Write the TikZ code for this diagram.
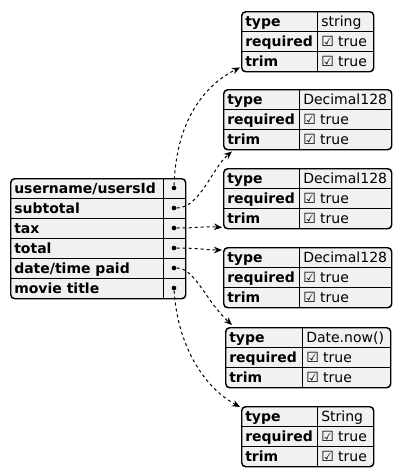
\documentclass[tikz,border=0pt]{standalone}
\usepackage{fontspec}
\setmainfont{DejaVu Sans}
\usetikzlibrary{arrows.meta}
\definecolor{tablegray}{HTML}{F1F1F1}

\newcommand{\proptable}[6]{%
  \node[tbl, minimum width=#4*0.75pt, anchor=north west] (#1) at (#2,#3) {};
  \draw[cellline] (#2,#3+20) -- ++(#4,0) (#2,#3+40) -- ++(#4,0) (#2+#5,#3) -- ++(0,60);
  \node[key] (#1-type) at (#2+4,#3+15) {type};
  \node[val] (#1-typeval) at (#2+#5+4,#3+15) {#6};
  \node[key] (#1-req) at (#2+4,#3+35) {required};
  \node[val] (#1-reqval) at (#2+#5+4,#3+35) {☑ true};
  \node[key] (#1-trim) at (#2+4,#3+55) {trim};
  \node[val] (#1-trimval) at (#2+#5+4,#3+55) {☑ true};
}

\begin{document}
\begin{tikzpicture}[
    x=0.75pt, y=-0.75pt,
    every node/.style={font=\fontsize{10.5}{12}\selectfont},
    tbl/.style={rectangle, draw, line width=1.1pt, rounded corners=3pt, fill=tablegray, minimum height=45pt, inner sep=0pt},
    cellline/.style={line width=0.75pt},
    key/.style={anchor=base west, inner sep=0pt, font=\fontsize{10.5}{12}\selectfont\bfseries},
    val/.style={anchor=base west, inner sep=0pt},
    dot/.style={circle, fill, inner sep=0pt, minimum size=3.5pt},
    link/.style={dash pattern=on 2.25pt off 2.25pt, line width=0.75pt, -{Stealth[length=6pt, width=5pt]}}
]
\useasboundingbox (0,0) rectangle (403,476);

\node[tbl, minimum width=131.25pt, minimum height=90pt, anchor=north west] (order) at (10,178) {};
\draw[cellline] (10,198) -- (185,198) (10,218) -- (185,218) (10,238) -- (185,238)
  (10,258) -- (185,258) (10,278) -- (185,278) (163,178) -- (163,298);

\node[key] (usr) at (14,193) {username/usersId};
\node[key] (sub) at (14,213) {subtotal};
\node[key] (tax) at (14,233) {tax};
\node[key] (tot) at (14,253) {total};
\node[key] (paid) at (14,273) {date/time paid};
\node[key] (movie) at (14,293) {movie title};

\node[dot] (usrdot) at (174,188) {};
\node[dot] (subdot) at (174,208) {};
\node[dot] (taxdot) at (174,228) {};
\node[dot] (totdot) at (174,248) {};
\node[dot] (paiddot) at (174,268) {};
\node[dot] (moviedot) at (174,288) {};

\proptable{usrtype}{241}{11}{132}{76}{string}
\proptable{subtype}{223}{89}{168}{76}{Decimal128}
\proptable{taxtype}{223}{168}{168}{76}{Decimal128}
\proptable{tottype}{223}{247}{168}{76}{Decimal128}
\proptable{paidtype}{225}{327}{165}{77}{Date.now()}
\proptable{movietype}{241}{406}{132}{76}{String}

\draw[link] (usrdot) .. controls (176,120) and (205,85) .. ([xshift=-0.75pt, yshift=3.75pt]usrtype.south west);
\draw[link] (subdot) .. controls (200,208) and (212,168) .. ([xshift=6.75pt, yshift=-0.75pt]subtype.south west);
\draw[link] (taxdot) .. controls (200,228) and (205,226) .. ([xshift=-0.75pt, yshift=1.5pt]taxtype.south west);
\draw[link] (totdot) .. controls (200,248) and (205,250) .. ([xshift=-0.75pt, yshift=-2.25pt]tottype.north west);
\draw[link] (paiddot) .. controls (195,268) and (205,300) .. ([xshift=5.25pt, yshift=1.5pt]paidtype.north west);
\draw[link] (moviedot) .. controls (177,340) and (200,385) .. ([xshift=-0.75pt, yshift=-0.75pt]movietype.north west);

\end{tikzpicture}
\end{document}
